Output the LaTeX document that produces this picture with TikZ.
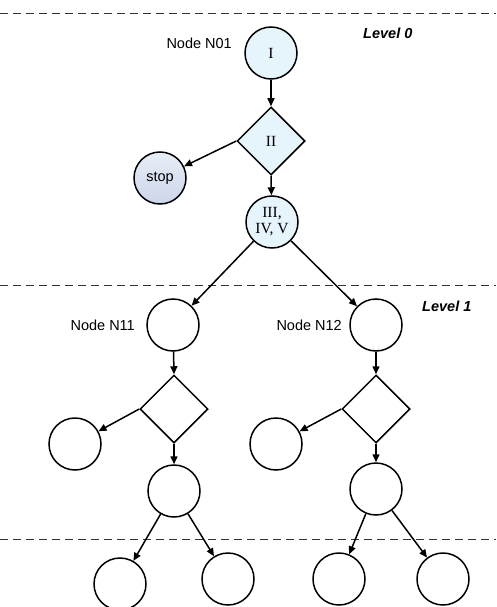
\documentclass[tikz,border=0pt]{standalone}
\usepackage{fontspec}
\setmainfont{Liberation Serif}
\setsansfont{Liberation Sans}
\usetikzlibrary{shapes.geometric,arrows.meta}
\definecolor{lblue}{HTML}{E6F4FC}
\definecolor{stoptop}{HTML}{E8EEF7}
\definecolor{stopbot}{HTML}{CBD6E9}
\tikzset{
  circ/.style={circle,draw,line width=1.5pt,minimum size=52pt,inner sep=0pt,fill=white},
  dmd/.style={diamond,draw,line width=1.5pt,minimum width=68pt,minimum height=68pt,inner sep=0pt,fill=white},
  lb/.style={fill=lblue},
  arr/.style={line width=1.5pt,-{Triangle[length=8pt,width=7pt]}},
  sep/.style={line width=0.9pt,dash pattern=on 8pt off 5pt,black!80},
  lab/.style={font=\sffamily\fontsize{14.5}{16}\selectfont,inner sep=0pt},
  lvl/.style={font=\sffamily\bfseries\itshape\fontsize{14.5}{16}\selectfont,inner sep=0pt},
  rom/.style={font=\rmfamily\fontsize{15.5}{16}\selectfont,align=center}
}
\begin{document}
\begin{tikzpicture}[x=1pt,y=-1pt]
\useasboundingbox (0,0) rectangle (496,607);
% separators
\coordinate (s1a) at (0,13); \coordinate (s1b) at (496,13);
\coordinate (s2a) at (0,285); \coordinate (s2b) at (496,285);
\coordinate (s3a) at (0,539); \coordinate (s3b) at (496,539);
\draw[sep] (s1a) -- (s1b);
\draw[sep] (s2a) -- (s2b);
\draw[sep] (s3a) -- (s3b);
% level 0
\node[circ,lb,rom] (n1) at (271,53) {I};
\node[dmd,lb,rom] (d0) at (271,141) {II};
\node[circ,font=\sffamily\fontsize{14.5}{16}\selectfont,top color=stoptop,bottom color=stopbot] (stop) at (160,178) {stop};
\node[circ,lb,rom,font=\rmfamily\fontsize{15.5}{16}\selectfont] (n3) at (272,222) {III,\\IV, V};
\node[lab,anchor=east] (l01) at (232,43) {Node N01};
\node[lvl,anchor=west] (lv0) at (363,33) {Level 0};
% level 1
\node[circ] (a1) at (173,325) {};
\node[circ] (b1) at (376,325) {};
\node[lab,anchor=east] (l11) at (135,325) {Node N11};
\node[lab,anchor=east] (l12) at (342,325) {Node N12};
\node[lvl,anchor=west] (lv1) at (422,306) {Level 1};
\node[dmd] (ad) at (174,409) {};
\node[dmd] (bd) at (376,409) {};
\node[circ] (aleaf) at (75,444) {};
\node[circ] (bleaf) at (276,444) {};
\node[circ] (am) at (174,491) {};
\node[circ] (bm) at (376,489) {};
% level 2
\node[circ] (all) at (120,584) {};
\node[circ] (alr) at (228,579) {};
\node[circ] (brl) at (339,579) {};
\node[circ] (brr) at (443,579) {};
% connectors
\draw[arr] (n1) -- (d0);
\draw[arr] (d0.west) -- (stop);
\draw[arr] (d0.south) -- (n3);
\draw[arr] (n3) -- (a1);
\draw[arr] (n3) -- (b1);
\draw[arr] (a1) -- (ad.north);
\draw[arr] (b1) -- (bd.north);
\draw[arr] (ad.west) -- (aleaf);
\draw[arr] (bd.west) -- (bleaf);
\draw[arr] (ad.south) -- (am);
\draw[arr] (bd.south) -- (bm);
\draw[arr] (am) -- (all);
\draw[arr] (am) -- (alr);
\draw[arr] (bm) -- (brl);
\draw[arr] (bm) -- (brr);
\end{tikzpicture}
\end{document}
